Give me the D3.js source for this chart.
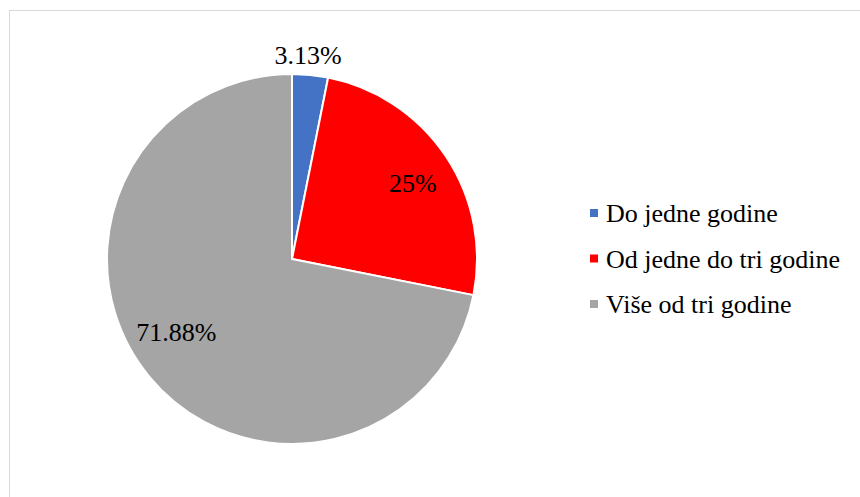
<!DOCTYPE html>
<html>
<head>
<meta charset="utf-8">
<script src="https://cdn.jsdelivr.net/npm/d3@7"></script>
</head>
<body style="margin:0;background:#fff">
<div id="pie"></div>
<script>
const categories = ["Do jedne godine", "Od jedne do tri godine", "Više od tri godine"];
const values = [3.13, 25, 71.88];
const labels = ["3.13%", "25%", "71.88%"];
const colors = ["#4472C4", "#FF0000", "#A5A5A5"];

const width = 860;
const height = 497;
const radius = 185;
const cx = 292, cy = 259;

const svg = d3.select("#pie")
  .append("svg")
  .attr("width", width)
  .attr("height", height)
  .style("display", "block");

// chart frame (only top/left edges fall inside the window)
svg.append("rect")
  .attr("x", 9.5).attr("y", 10.5)
  .attr("width", 870).attr("height", 500)
  .attr("fill", "none")
  .attr("stroke", "#D9D9D9")
  .attr("stroke-width", 1);

const data = categories.map((c, i) => ({ name: c, value: values[i], label: labels[i], color: colors[i] }));

const pie = d3.pie().sort(null).value(d => d.value);
const arc = d3.arc().innerRadius(0).outerRadius(radius);
const arcs = pie(data);

const g = svg.append("g").attr("transform", `translate(${cx},${cy})`);

g.selectAll("path")
  .data(arcs)
  .enter()
  .append("path")
  .attr("d", arc)
  .attr("fill", d => d.data.color)
  .attr("stroke", "#fff")
  .attr("stroke-width", 2)
  .attr("stroke-linejoin", "round");

// best-fit style: tiny slice label outside, others inside
const labelPos = d => {
  if (d.data.value < 5) {
    const r = radius + 20;
    const p = d3.arc().innerRadius(r).outerRadius(r).centroid(d);
    return [16, p[1]];
  }
  const r = radius * 0.76;
  const p = d3.arc().innerRadius(r).outerRadius(r).centroid(d);
  if (d.data.value > 50) return [p[0] - 7, p[1] - 16];
  return [p[0] + 4, p[1] + 2];
};

g.selectAll("text.lbl")
  .data(arcs)
  .enter()
  .append("text")
  .attr("class", "lbl")
  .attr("transform", d => `translate(${labelPos(d)})`)
  .attr("text-anchor", "middle")
  .attr("dy", "0.35em")
  .style("font-family", d => `"Liberation Serif"`)
  .style("font-size", "26px")
  .text(d => d.data.label);

// legend
const legend = svg.append("g").attr("transform", "translate(590,213)");
const item = legend.selectAll("g")
  .data(data)
  .enter()
  .append("g")
  .attr("transform", (d, i) => `translate(0,${i * 45.5})`);

item.append("rect")
  .attr("x", 0).attr("y", -4)
  .attr("width", 8).attr("height", 8)
  .attr("fill", d => d.color);

item.append("text")
  .attr("x", 16)
  .attr("dy", "0.35em")
  .style("font-family", d => `"Liberation Serif"`)
  .style("font-size", "26px")
  .text(d => d.name);
</script>
</body>
</html>
